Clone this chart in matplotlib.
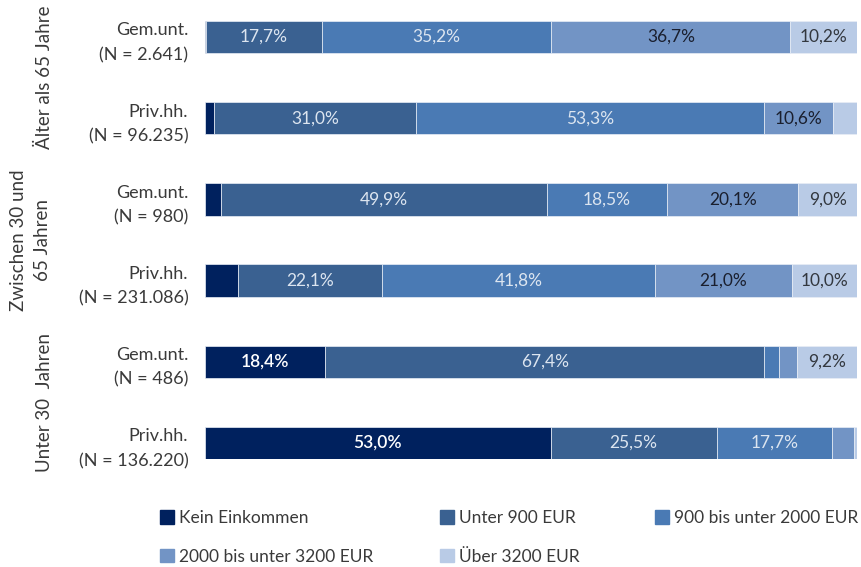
import matplotlib
matplotlib.use("Agg")
import matplotlib.pyplot as plt
from matplotlib import transforms
from matplotlib.patches import Rectangle
from matplotlib import font_manager

categories = ["Gem.unt.\n(N = 2.641)", "Priv.hh.\n(N = 96.235)",
              "Gem.unt.\n(N = 980)", "Priv.hh.\n(N = 231.086)",
              "Gem.unt.\n(N = 486)", "Priv.hh.\n(N = 136.220)"]
groups = ["Älter als 65 Jahre", "Zwischen 30 und\n65 Jahren", "Unter 30  Jahren"]
series = ["Kein Einkommen", "Unter 900 EUR", "900 bis unter 2000 EUR",
          "2000 bis unter 3200 EUR", "Über 3200 EUR"]
kein = [0.2, 1.4, 2.5, 5.1, 18.4, 53.0]
unter900 = [17.7, 31.0, 49.9, 22.1, 67.4, 25.5]
b900_2000 = [35.2, 53.3, 18.5, 41.8, 2.3, 17.7]
b2000_3200 = [36.7, 10.6, 20.1, 21.0, 2.7, 3.4]
ueber3200 = [10.2, 3.7, 9.0, 10.0, 9.2, 0.4]
label_min = 8.0

colors = ["#00215e", "#3a6191", "#4a7ab4", "#7294c5", "#b9cbe6"]
txt_colors = ["#ffffff", "#dce5f0", "#dce5f0", "#1a1f2e", "#33383f"]
txt_weights = ["semibold", "normal", "normal", "normal", "normal"]

avail = {f.name for f in font_manager.fontManager.ttflist}
fam = "Lato" if "Lato" in avail else "DejaVu Sans"
plt.rcParams["font.family"] = [fam, "DejaVu Sans"]
plt.rcParams["font.weight"] = "normal"

fig = plt.figure(figsize=(8.61, 5.67), dpi=100)
ax = fig.add_axes([205/861, 1-459.2/567, (857-205)/861, (459.2-20.8)/567])

data = [kein, unter900, b900_2000, b2000_3200, ueber3200]
y = list(range(len(categories)))
left = [0.0]*len(categories)
for si, vals in enumerate(data):
    ax.barh(y, vals, left=left, height=0.4, color=colors[si],
            edgecolor="#e8eef6", linewidth=0.5, label=series[si])
    for i, v in enumerate(vals):
        if v >= label_min:
            ax.text(left[i] + v/2, i, f"{v:.1f}%".replace(".", ","),
                    ha="center", va="center", fontsize=12.5,
                    color=txt_colors[si], fontweight=txt_weights[si])
    left = [l + v for l, v in zip(left, vals)]

ax.set_xlim(0, 100)
ax.set_ylim(5.2, -0.2)
ax.set_yticks(y)
ax.set_yticklabels(categories, fontsize=13, color="#3a3a3a", linespacing=1.65)
ax.tick_params(axis="y", length=0, pad=12)
ax.set_xticks([])
for s in ax.spines.values():
    s.set_visible(False)

tr = transforms.blended_transform_factory(fig.transFigure, ax.transData)
for gi, g in enumerate(groups):
    yc = gi*2 + 0.5
    ax.text(0.052 if "\n" not in g else 0.036, yc, g, transform=tr, rotation=90,
            ha="center", va="center", fontsize=13.5, color="#3a3a3a",
            linespacing=1.5, multialignment="center")

handles = [Rectangle((0, 0), 1, 1, color=c) for c in colors]
legend_cols = [[0, 3], [1, 4], [2]]
col_x = [160, 440, 655]
for xi, idx in zip(col_x, legend_cols):
    fig.legend([handles[i] for i in idx], [series[i] for i in idx],
               ncol=1, loc="upper left", bbox_to_anchor=(xi/861, 1-510/567),
               frameon=False, handlelength=0.8, handleheight=0.8,
               handletextpad=0.3, labelspacing=1.3, borderpad=0,
               borderaxespad=0, labelcolor="#3a3a3a",
               prop={"family": [fam], "size": 12.5})

fig.savefig("out.png", dpi=100)
